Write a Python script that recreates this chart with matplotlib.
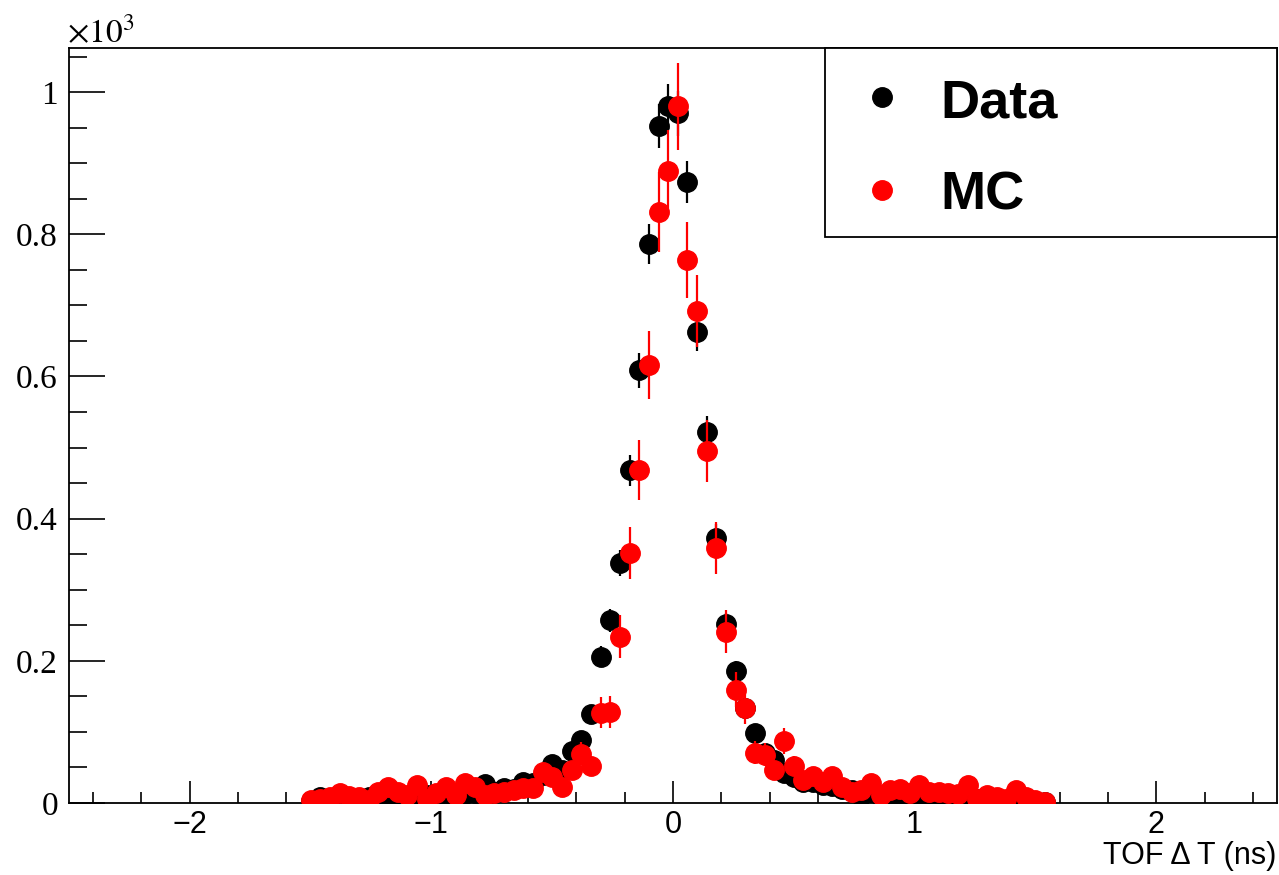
import matplotlib
matplotlib.use("Agg")
import matplotlib.pyplot as plt
import numpy as np
from matplotlib.patches import Rectangle
from matplotlib.lines import Line2D
from matplotlib.ticker import MultipleLocator, FixedLocator

# TOF delta T bin centres (ns), 0.04 ns bins
bin_lo = -1.50
bin_width = 0.04

# counts per bin
data_counts = [3, 9, 5, 1, 3, 5, 8, 10, 12, 9,
               9, 12, 11, 8, 14, 9, 12, 14, 27, 15,
               21, 20, 29, 28, 40, 55, 47, 73, 88, 125,
               206, 257, 337, 468, 609, 786, 952, 980, 970, 873,
               662, 522, 373, 252, 186, 134, 99, 70, 60, 42,
               37, 30, 30, 26, 24, 20, 18, 10, 16, 9,
               11, 12, 9, 10, 3, 9, 8, 3, 8, 6,
               7, 5, 4, 3, 4, 3, 1]
mc_counts = [4, 5, 8, 14, 10, 9, 4, 16, 22, 16,
             11, 25, 6, 14, 23, 11, 28, 23, 11, 14,
             16, 18, 21, 21, 43, 37, 23, 46, 69, 52,
             127, 128, 234, 352, 468, 616, 831, 889, 980, 764,
             692, 495, 359, 241, 159, 133, 71, 68, 46, 87,
             52, 32, 38, 30, 38, 23, 16, 18, 28, 11,
             18, 20, 14, 25, 16, 16, 14, 12, 25, 6,
             11, 9, 6, 18, 9, 4, 2]
mc_weight = 3.8  # MC event weight, sets the size of the MC error bars

x = bin_lo + bin_width * np.arange(len(data_counts))
data = np.array(data_counts, dtype=float)
mc = np.array(mc_counts, dtype=float)
data_err = np.sqrt(data)
mc_err = np.sqrt(mc * mc_weight)

W, H = 1279, 875
fig = plt.figure(figsize=(W / 100, H / 100), dpi=100)
ax = fig.add_axes([69 / W, 1 - 803 / H, (1277 - 69) / W, (803 - 48) / H])

ax.errorbar(x, data / 1000, yerr=data_err / 1000, fmt='o', color='black',
            ms=14, elinewidth=1.6, capsize=0, zorder=3)
ax.errorbar(x, mc / 1000, yerr=mc_err / 1000, fmt='o', color='red',
            ms=14, elinewidth=1.6, capsize=0, zorder=4)

ax.set_xlim(-2.5, 2.5)
ax.set_ylim(0, 1.062)

for s in ax.spines.values():
    s.set_linewidth(1.3)

ax.xaxis.set_major_locator(MultipleLocator(1))
ax.xaxis.set_minor_locator(MultipleLocator(0.2))
ax.yaxis.set_major_locator(FixedLocator([0, 0.2, 0.4, 0.6, 0.8, 1.0]))
ax.yaxis.set_minor_locator(MultipleLocator(0.05))
ax.set_yticklabels(['0', '0.2', '0.4', '0.6', '0.8', '1'])

ax.tick_params(axis='x', which='major', direction='in', length=16, width=1.2,
               top=False, pad=5, labelsize=22)
ax.tick_params(axis='x', which='minor', direction='in', length=8, width=1.2, top=False)
ax.tick_params(axis='y', which='major', direction='in', length=26, width=1.2,
               right=False, pad=8, labelsize=24)
ax.tick_params(axis='y', which='minor', direction='in', length=13, width=1.2, right=False)
for lab in ax.get_xticklabels():
    lab.set_fontfamily('Liberation Sans')
for lab in ax.get_yticklabels():
    lab.set_fontfamily('Liberation Serif')

plt.rcParams['mathtext.fontset'] = 'stix'
fig.text(67 / W, 1 - 43 / H, r'$\times10^{3}$', fontsize=24, ha='left', va='baseline')
fig.text(1276 / W, 1 - 864 / H, 'TOF \u0394 T (ns)', fontsize=22, ha='right',
         va='baseline', family='Liberation Sans')

# legend box
fig.add_artist(Rectangle((825 / W, 1 - 237 / H), (1277 - 825) / W, (237 - 48) / H,
                         transform=fig.transFigure, facecolor='white',
                         edgecolor='black', lw=1.3, zorder=5))
for yy, col, name, base in [(97, 'black', 'Data', 117), (190, 'red', 'MC', 210)]:
    fig.add_artist(Line2D([882 / W], [1 - yy / H], marker='o', color=col, ms=14,
                          transform=fig.transFigure, zorder=6))
    fig.text(940 / W, 1 - base / H, name, fontsize=39, fontweight='bold',
             family='Liberation Sans', ha='left', va='baseline', zorder=6)

fig.savefig('out.png', dpi=100)
